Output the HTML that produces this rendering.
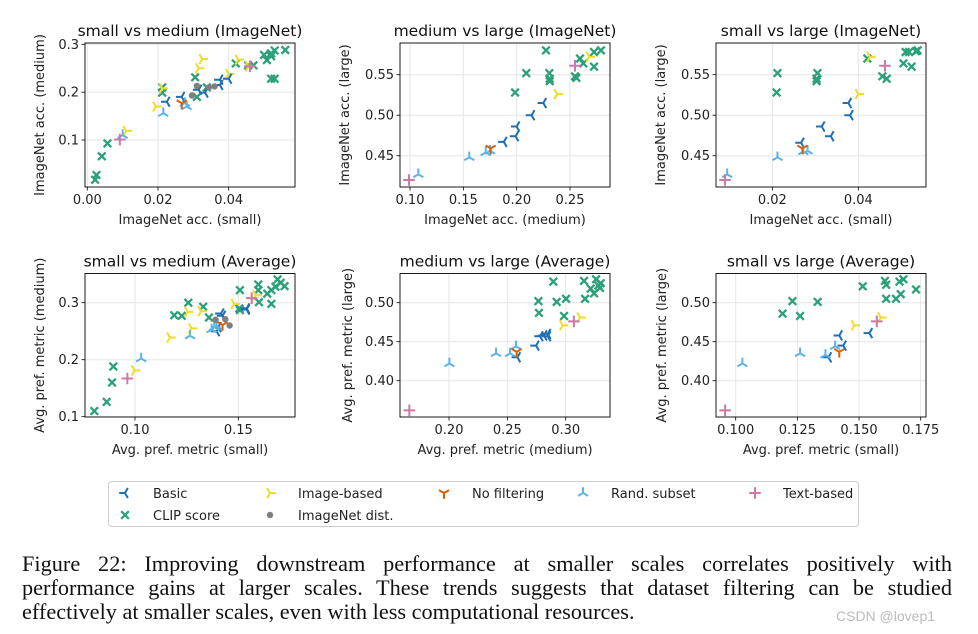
<!DOCTYPE html>
<html><head><meta charset="utf-8"><style>
body{margin:0;background:#fff;width:978px;height:634px;overflow:hidden;position:relative;font-family:"DejaVu Sans","Liberation Sans",sans-serif}
svg{position:absolute;left:0;top:0}
.cap{position:absolute;left:22px;top:552px;width:930px;font-family:"Liberation Serif",serif;font-size:22.3px;line-height:24px;color:#111}
.cap div{text-align:justify;text-align-last:justify;white-space:nowrap;overflow:visible}
.cap div.last{text-align-last:left}
.wm{position:absolute;left:836px;top:608px;font-size:14px;color:#bbb;font-family:"Liberation Sans",sans-serif}
</style></head><body>
<svg id="fig" width="978" height="634" xmlns="http://www.w3.org/2000/svg"></svg>
<div class="cap"><div>Figure 22: Improving downstream performance at smaller scales correlates positively with</div><div>performance gains at larger scales. These trends suggests that dataset filtering can be studied</div><div class="last">effectively at smaller scales, even with less computational resources.</div></div>
<div class="wm">CSDN @lovep1</div>
<script>
// ---- data: [x, y] pairs per panel and category ----
const p1Clip=[[0.0022,0.017],[0.0026,0.027],[0.0041,0.066],[0.0057,0.093],[0.0212,0.210],[0.0212,0.199],[0.0305,0.231],[0.031,0.19],[0.0338,0.21],[0.042,0.26],[0.0455,0.256],[0.0508,0.267],[0.050,0.278],[0.052,0.281],[0.052,0.275],[0.053,0.287],[0.056,0.288],[0.052,0.228],[0.053,0.228],[0.047,0.256]];
const p1Image=[[0.0194,0.170],[0.0212,0.208],[0.011,0.119],[0.0315,0.25],[0.0325,0.269],[0.040,0.238],[0.0427,0.268],[0.0456,0.254]];
const p1Basic=[[0.0225,0.180],[0.0267,0.190],[0.0315,0.205],[0.0333,0.199],[0.0375,0.226],[0.0375,0.215],[0.040,0.228]];
const p1Rand=[[0.0215,0.156],[0.010,0.110],[0.0276,0.177],[0.0281,0.170]];
const p1NoFilter=[[0.0267,0.177]];
const p1Text=[[0.0092,0.101],[0.046,0.254]];
const p1Dist=[[0.0296,0.193],[0.031,0.213],[0.0344,0.21],[0.036,0.212]];

const p2Clip=[[0.2275,0.580],[0.209,0.552],[0.1985,0.528],[0.2306,0.552],[0.231,0.545],[0.231,0.542],[0.2547,0.548],[0.256,0.546],[0.2594,0.570],[0.2625,0.564],[0.2725,0.578],[0.279,0.580],[0.2725,0.560]];
const p2Image=[[0.238,0.526],[0.268,0.572]];
const p2Basic=[[0.225,0.515],[0.214,0.500],[0.200,0.486],[0.199,0.474],[0.188,0.467]];
const p2Rand=[[0.1556,0.448],[0.171,0.454],[0.175,0.456],[0.1078,0.427]];
const p2NoFilter=[[0.1756,0.459]];
const p2Text=[[0.099,0.420],[0.2547,0.561]];

const p3Clip=[[0.0212,0.552],[0.021,0.528],[0.0305,0.552],[0.0303,0.545],[0.0303,0.542],[0.0421,0.570],[0.0456,0.548],[0.0466,0.545],[0.0505,0.564],[0.051,0.578],[0.0518,0.578],[0.0524,0.560],[0.0534,0.579],[0.0538,0.580]];
const p3Image=[[0.0427,0.572],[0.040,0.526]];
const p3Basic=[[0.0377,0.515],[0.0381,0.500],[0.0315,0.486],[0.0336,0.474],[0.0267,0.466]];
const p3Rand=[[0.0212,0.448],[0.0272,0.455],[0.0282,0.456],[0.0095,0.427]];
const p3NoFilter=[[0.027,0.459]];
const p3Text=[[0.009,0.420],[0.0462,0.561]];

const p4Clip=[[0.0803,0.110],[0.0863,0.126],[0.0889,0.160],[0.0895,0.188],[0.119,0.278],[0.1226,0.277],[0.1258,0.300],[0.133,0.293],[0.1358,0.274],[0.1508,0.322],[0.1505,0.290],[0.1508,0.287],[0.1597,0.332],[0.1597,0.322],[0.1600,0.301],[0.164,0.316],[0.166,0.322],[0.166,0.298],[0.168,0.328],[0.169,0.341],[0.1705,0.335],[0.1724,0.329]];
const p4Image=[[0.1169,0.239],[0.0998,0.181],[0.1274,0.255],[0.1255,0.284],[0.132,0.285],[0.148,0.298],[0.1585,0.313]];
const p4Basic=[[0.1416,0.281],[0.1424,0.277],[0.1395,0.250],[0.154,0.290],[0.154,0.288],[0.1403,0.257]];
const p4Rand=[[0.103,0.202],[0.1266,0.242],[0.1371,0.253],[0.1384,0.257],[0.1395,0.259]];
const p4NoFilter=[[0.1424,0.261]];
const p4Text=[[0.0963,0.167],[0.1565,0.308]];
const p4Dist=[[0.1390,0.270],[0.1437,0.271],[0.1458,0.260]];

const p5Clip=[[0.2766,0.502],[0.2771,0.487],[0.2894,0.527],[0.2923,0.501],[0.3003,0.505],[0.2986,0.483],[0.3157,0.528],[0.3166,0.505],[0.3214,0.518],[0.3243,0.512],[0.326,0.530],[0.328,0.522],[0.330,0.525],[0.3294,0.519]];
const p5Image=[[0.2974,0.471],[0.3123,0.481]];
const p5Basic=[[0.2746,0.445],[0.278,0.457],[0.2814,0.458],[0.2846,0.460],[0.2846,0.457],[0.2586,0.430]];
const p5Rand=[[0.2003,0.422],[0.2403,0.435],[0.2523,0.435],[0.2574,0.444]];
const p5NoFilter=[[0.258,0.437]];
const p5Text=[[0.166,0.362],[0.307,0.476]];

const p6Clip=[[0.119,0.486],[0.1230,0.502],[0.1261,0.483],[0.1332,0.501],[0.1515,0.521],[0.1605,0.528],[0.161,0.523],[0.161,0.505],[0.165,0.505],[0.1664,0.527],[0.1669,0.511],[0.168,0.530],[0.1731,0.517]];
const p6Image=[[0.1481,0.471],[0.1588,0.481]];
const p6Basic=[[0.142,0.458],[0.1436,0.445],[0.1376,0.430],[0.1542,0.461]];
const p6Rand=[[0.1027,0.422],[0.1261,0.435],[0.1364,0.433],[0.1403,0.444]];
const p6NoFilter=[[0.142,0.437]];
const p6Text=[[0.0957,0.362],[0.1572,0.476]];

const xTicks1=["0.00","0.02","0.04"], yTicks1=["0.1","0.2","0.3"];
const xTicks2=["0.10","0.15","0.20","0.25"], yTicks2=["0.45","0.50","0.55"];
const xTicks3=["0.02","0.04"], yTicks3=["0.45","0.50","0.55"];
const xTicks4=["0.10","0.15"], yTicks4=["0.1","0.2","0.3"];
const xTicks5=["0.20","0.25","0.30"], yTicks5=["0.40","0.45","0.50"];
const xTicks6=["0.100","0.125","0.150","0.175"], yTicks6=["0.40","0.45","0.50"];

const NS="http://www.w3.org/2000/svg";
const svg=document.getElementById('fig');
function el(t,a,p){const e=document.createElementNS(NS,t);for(const k in a)e.setAttribute(k,a[k]);(p||svg).appendChild(e);return e;}
const COL={basic:"#1f6fb4",clip:"#2ca07a",image:"#f0dc28",nofilter:"#d95f02",rand:"#5ab4e8",text:"#cc79a7",dist:"#7f7f7f"};
function marker(g,kind,cx,cy){
  const r=5.8,c=COL[kind];let d="";
  const spokes=(angs)=>angs.map(a=>{const t=a*Math.PI/180;return `M${cx},${cy}L${cx+r*Math.cos(t)},${cy-r*Math.sin(t)}`}).join("");
  if(kind==="clip"){const s=3.8;d=`M${cx-s},${cy-s}L${cx+s},${cy+s}M${cx-s},${cy+s}L${cx+s},${cy-s}`;}
  else if(kind==="text"){d=`M${cx-r},${cy}L${cx+r},${cy}M${cx},${cy-r}L${cx},${cy+r}`;}
  else if(kind==="basic")d=spokes([180,60,300]);
  else if(kind==="image")d=spokes([0,120,240]);
  else if(kind==="rand")d=spokes([90,210,330]);
  else if(kind==="nofilter")d=spokes([270,30,150]);
  if(kind==="dist"){const e=el('circle',{cx,cy,r:3.2,fill:c},g);return e;}
  return el('path',{d,stroke:c,'stroke-width':kind==="clip"?2.3:2,fill:"none"},g);
}
function panel(cfg){
  const g=el('g',{});
  
  
  const [x0,y0,x1,y1]=cfg.frame;
  const sx=v=>cfg.xr[1]+(v-cfg.xr[0])*(cfg.xr[3]-cfg.xr[1])/(cfg.xr[2]-cfg.xr[0]);
  const sy=v=>cfg.yr[1]+(v-cfg.yr[0])*(cfg.yr[3]-cfg.yr[1])/(cfg.yr[2]-cfg.yr[0]);
  cfg.xt.forEach(t=>{const x=sx(parseFloat(t));
    el('line',{x1:x,x2:x,y1:y0,y2:y1,stroke:"#e6e6e6",'stroke-width':1},g);
    el('line',{x1:x,x2:x,y1:y1,y2:y1+3.5,stroke:"#000",'stroke-width':0.8},g);
    const tx=el('text',{x,y:y1+17,'text-anchor':'middle','font-size':13,fill:"#222"},g);tx.textContent=t;
    
    });
  cfg.yt.forEach(t=>{const y=sy(parseFloat(t));
    el('line',{x1:x0,x2:x1,y1:y,y2:y,stroke:"#e6e6e6",'stroke-width':1},g);
    el('line',{x1:x0-3.5,x2:x0,y1:y,y2:y,stroke:"#000",'stroke-width':0.8},g);
    const tx=el('text',{x:x0-6,y:y+4.5,'text-anchor':'end','font-size':13,fill:"#222"},g);tx.textContent=t;
    
    });
  cfg.series.forEach(([kind,arr])=>{arr.forEach(p=>{const m=marker(g,kind,sx(p[0]),sy(p[1]));
    
    });});
  el('rect',{x:x0,y:y0,width:x1-x0,height:y1-y0,fill:"none",stroke:"#000",'stroke-width':0.9},g);
  const cx=(x0+x1)/2;
  const ti=el('text',{x:cx,y:y0-7,'text-anchor':'middle','font-size':15.5,fill:"#111"},g);ti.textContent=cfg.title;
  
  
  const xl=el('text',{x:cx,y:y1+37,'text-anchor':'middle','font-size':13,fill:"#222"},g);xl.textContent=cfg.xl;
  
  
  const cy=(y0+y1)/2;
  const yl=el('text',{x:cfg.ylx,y:cy,'text-anchor':'middle','font-size':13,fill:"#222",transform:`rotate(-90 ${cfg.ylx} ${cy})`},g);yl.textContent=cfg.yl;
  
  
}
const R1=[43,187],R2=[273.5,417];
panel({name:'panel-small-vs-medium-imagenet',frame:[85,R1[0],295,R1[1]],xr:[0,87.3,0.04,228.7],yr:[0.1,140,0.3,44.3],xt:xTicks1,yt:yTicks1,title:"small vs medium (ImageNet)",xl:"ImageNet acc. (small)",yl:"ImageNet acc. (medium)",ylx:44,
 series:[["clip",p1Clip],["image",p1Image],["basic",p1Basic],["rand",p1Rand],["nofilter",p1NoFilter],["dist",p1Dist],["text",p1Text]]});
panel({name:'panel-medium-vs-large-imagenet',frame:[400,R1[0],610,R1[1]],xr:[0.10,410,0.25,570],yr:[0.45,155.7,0.55,74.7],xt:xTicks2,yt:yTicks2,title:"medium vs large (ImageNet)",xl:"ImageNet acc. (medium)",yl:"ImageNet acc. (large)",ylx:349,
 series:[["clip",p2Clip],["image",p2Image],["basic",p2Basic],["rand",p2Rand],["nofilter",p2NoFilter],["text",p2Text]]});
panel({name:'panel-small-vs-large-imagenet',frame:[716,R1[0],926,R1[1]],xr:[0.02,772.3,0.04,858.3],yr:[0.45,155.7,0.55,74.7],xt:xTicks3,yt:yTicks3,title:"small vs large (ImageNet)",xl:"ImageNet acc. (small)",yl:"ImageNet acc. (large)",ylx:665,
 series:[["clip",p3Clip],["image",p3Image],["basic",p3Basic],["rand",p3Rand],["nofilter",p3NoFilter],["text",p3Text]]});
panel({name:'panel-small-vs-medium-average',frame:[85,R2[0],295,R2[1]],xr:[0.10,135,0.15,238.3],yr:[0.1,416.7,0.3,302.7],xt:xTicks4,yt:yTicks4,title:"small vs medium (Average)",xl:"Avg. pref. metric (small)",yl:"Avg. pref. metric (medium)",ylx:44,
 series:[["clip",p4Clip],["image",p4Image],["basic",p4Basic],["rand",p4Rand],["nofilter",p4NoFilter],["dist",p4Dist],["text",p4Text]]});
panel({name:'panel-medium-vs-large-average',frame:[400,R2[0],610,R2[1]],xr:[0.20,449,0.30,565.7],yr:[0.40,380.7,0.50,302.7],xt:xTicks5,yt:yTicks5,title:"medium vs large (Average)",xl:"Avg. pref. metric (medium)",yl:"Avg. pref. metric (large)",ylx:352,
 series:[["clip",p5Clip],["image",p5Image],["basic",p5Basic],["rand",p5Rand],["nofilter",p5NoFilter],["text",p5Text]]});
panel({name:'panel-small-vs-large-average',frame:[716,R2[0],926,R2[1]],xr:[0.100,735.7,0.175,920.7],yr:[0.40,380.7,0.50,302.7],xt:xTicks6,yt:yTicks6,title:"small vs large (Average)",xl:"Avg. pref. metric (small)",yl:"Avg. pref. metric (large)",ylx:666,
 series:[["clip",p6Clip],["image",p6Image],["basic",p6Basic],["rand",p6Rand],["nofilter",p6NoFilter],["text",p6Text]]});

// legend
const lg=el('g',{});


el('rect',{x:108.5,y:481.5,width:750,height:45,rx:3,fill:"#fff",stroke:"#ccc"},lg);
const legendEntries=[["basic","Basic",125,493],["image","Image-based",270,493],["nofilter","No filtering",444,493],["rand","Rand. subset",583,493],["text","Text-based",755,493],["clip","CLIP score",125,515],["dist","ImageNet dist.",270,515]];
legendEntries.forEach(([k,lab,x,y])=>{
  const eg=el('g',{},lg);
  
  
  marker(eg,k,x,y);
  const t=el('text',{x:x+28,y:y+5,'font-size':13,fill:"#222"},eg);t.textContent=lab;
});
</script>
</body></html>
